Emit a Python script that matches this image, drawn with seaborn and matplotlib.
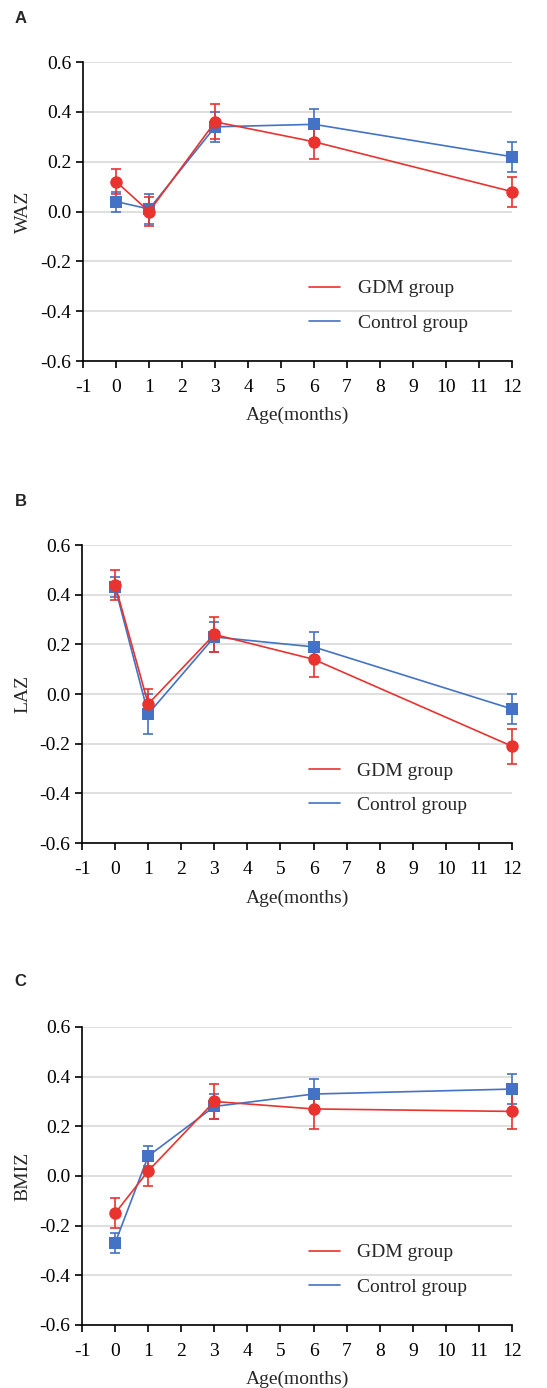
import numpy as np
import pandas as pd
import matplotlib
matplotlib.use("Agg")
import matplotlib.pyplot as plt
import seaborn as sns
from matplotlib.lines import Line2D

# valores (media y error)
meses = [0, 1, 3, 6, 12]
grupos = ["GDM group", "Control group"]

waz_gdm = [0.12, 0.00, 0.36, 0.28, 0.08]
waz_gdm_err = [0.05, 0.06, 0.07, 0.07, 0.06]
waz_ctl = [0.04, 0.01, 0.34, 0.35, 0.22]
waz_ctl_err = [0.04, 0.06, 0.06, 0.06, 0.06]

laz_gdm = [0.44, -0.04, 0.24, 0.14, -0.21]
laz_gdm_err = [0.06, 0.06, 0.07, 0.07, 0.07]
laz_ctl = [0.43, -0.08, 0.23, 0.19, -0.06]
laz_ctl_err = [0.04, 0.08, 0.06, 0.06, 0.06]

bmiz_gdm = [-0.15, 0.02, 0.30, 0.27, 0.26]
bmiz_gdm_err = [0.06, 0.06, 0.07, 0.08, 0.07]
bmiz_ctl = [-0.27, 0.08, 0.28, 0.33, 0.35]
bmiz_ctl_err = [0.04, 0.04, 0.05, 0.06, 0.06]

paneles = [
    ("A", "WAZ", waz_gdm, waz_gdm_err, waz_ctl, waz_ctl_err),
    ("B", "LAZ", laz_gdm, laz_gdm_err, laz_ctl, laz_ctl_err),
    ("C", "BMIZ", bmiz_gdm, bmiz_gdm_err, bmiz_ctl, bmiz_ctl_err),
]

rojo = "#E8332F"
azul = "#4472C4"

sns.set_style("ticks")
plt.rcParams["font.family"] = ["Liberation Serif", "DejaVu Serif"]
plt.rcParams["axes.unicode_minus"] = False

fig = plt.figure(figsize=(5.47, 13.88), dpi=100)

# posiciones de los ejes (fracción de figura)
pos = [(0.152, 0.7399, 0.784, 0.2154),
       (0.150, 0.3926, 0.786, 0.2147),
       (0.150, 0.0454, 0.786, 0.2147)]
letra_y = [0.987, 0.639, 0.293]

for (letra, ylab, g, ge, c, ce), p, ly in zip(paneles, pos, letra_y):
    ax = fig.add_axes(p)
    df = pd.DataFrame({
        "mes": meses * 2,
        "valor": c + g,
        "err": ce + ge,
        "grupo": [grupos[1]] * 5 + [grupos[0]] * 5,
    })
    for grp, col, mk in [(grupos[1], azul, "s"), (grupos[0], rojo, "o")]:
        d = df[df["grupo"] == grp]
        ax.errorbar(d["mes"], d["valor"], yerr=d["err"], fmt="none",
                    ecolor=col, elinewidth=1.2, capsize=3.3, capthick=1.2,
                    zorder=3, clip_on=False)
        sns.lineplot(data=d, x="mes", y="valor", color=col, marker=mk,
                     markersize=9, markeredgewidth=0, linewidth=1.2,
                     ax=ax, legend=False, zorder=4, clip_on=False)

    ax.set_xlim(-1, 12)
    ax.set_ylim(-0.6, 0.6)
    ax.set_xticks(range(-1, 13))
    ax.set_yticks(np.arange(-0.6, 0.61, 0.2))
    ax.set_yticklabels(["%.1f" % v for v in np.arange(-0.6, 0.61, 0.2)])
    ax.yaxis.grid(True, color="#D9D9D9", linewidth=1.2)
    ax.set_axisbelow(True)
    sns.despine(ax=ax)
    for s in ["left", "bottom"]:
        ax.spines[s].set_linewidth(1.2)
        ax.spines[s].set_color("black")
    ax.tick_params(axis="both", direction="out", length=5, width=1.2,
                   colors="black", labelsize=14)
    ax.tick_params(axis="x", pad=8)
    ax.set_xlabel("Age(months)", fontsize=14, labelpad=8)
    ax.set_ylabel(ylab, fontsize=14, labelpad=6)

    handles = [Line2D([], [], color=rojo, linewidth=1.2),
               Line2D([], [], color=azul, linewidth=1.2)]
    ax.legend(handles, grupos, frameon=False, fontsize=14,
              loc="lower left", bbox_to_anchor=(0.486, 0.04),
              handlelength=1.6, handletextpad=0.9, labelspacing=0.85)

    fig.text(0.027, ly, letra, fontsize=12, fontweight="bold",
             family="Liberation Sans", va="center", ha="left")

fig.savefig("out.png", dpi=100)
